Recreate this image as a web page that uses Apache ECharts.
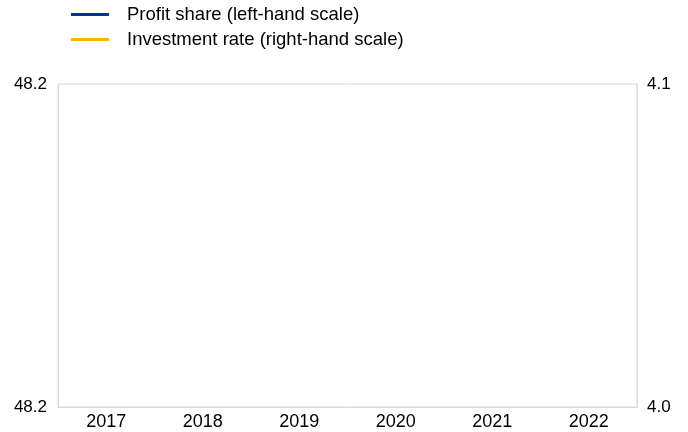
<!DOCTYPE html>
<html>
<head>
<meta charset="utf-8">
<script src="https://cdn.jsdelivr.net/npm/echarts@6/dist/echarts.min.js"></script>
<style>
  html, body { margin: 0; padding: 0; background: #fff; }
  #main { width: 688px; height: 432px; }
</style>
</head>
<body>
<div id="main"></div>
<script>
// categories on the x axis
var years = ['2017', '2018', '2019', '2020', '2021', '2022'];
// no line is visible in the picture, so the series carry no readable points
var profitShare = [];
var investmentRate = [];
// axis ranges (labels shown with one decimal)
var leftRange = [48.16, 48.24];
var rightRange = [4.0, 4.1];

var myChart = echarts.init(document.getElementById('main'));
var fontFam = 'Liberation Sans, Arial, sans-serif';

myChart.setOption({
    animation: false,
    legend: {
        orient: 'vertical',
        left: 66,
        top: 0,
        itemWidth: 38,
        itemHeight: 3,
        itemGap: 6,
        icon: 'rect',
        textStyle: { fontFamily: fontFam, fontSize: 18.5, color: '#000', padding: [0, 0, 0, 13] },
        data: ['Profit share (left-hand scale)', 'Investment rate (right-hand scale)']
    },
    grid: {
        left: 58, right: 51, top: 84, bottom: 25,
        show: true, borderColor: '#d9d9d9', borderWidth: 1
    },
    xAxis: {
        type: 'category',
        data: years,
        boundaryGap: true,
        axisLine: { lineStyle: { color: '#d9d9d9' } },
        axisTick: { length: 5, lineStyle: { color: '#d9d9d9' } },
        axisLabel: { fontFamily: fontFam, fontSize: 18, color: '#000', margin: 6 }
    },
    yAxis: [{
        type: 'value',
        min: leftRange[0],
        max: leftRange[1],
        interval: 0.08,
        splitLine: { show: false },
        axisLine: { show: true, lineStyle: { color: '#d9d9d9' } },
        axisTick: { show: false },
        axisLabel: {
            fontFamily: fontFam, fontSize: 17, color: '#000', margin: 11,
            formatter: function (v) { return v.toFixed(1); }
        }
    }, {
        type: 'value',
        min: rightRange[0],
        max: rightRange[1],
        interval: 0.1,
        splitLine: { show: false },
        axisLine: { show: true, lineStyle: { color: '#d9d9d9' } },
        axisTick: { show: false },
        axisLabel: {
            fontFamily: fontFam, fontSize: 17, color: '#000', margin: 10,
            formatter: function (v) { return v.toFixed(1); }
        }
    }],
    series: [{
        name: 'Profit share (left-hand scale)',
        type: 'line',
        yAxisIndex: 0,
        data: profitShare,
        symbol: 'none',
        itemStyle: { color: '#003299' },
        lineStyle: { color: '#003299', width: 3 }
    }, {
        name: 'Investment rate (right-hand scale)',
        type: 'line',
        yAxisIndex: 1,
        data: investmentRate,
        symbol: 'none',
        itemStyle: { color: '#ffb400' },
        lineStyle: { color: '#ffb400', width: 3 }
    }]
});
</script>
</body>
</html>
